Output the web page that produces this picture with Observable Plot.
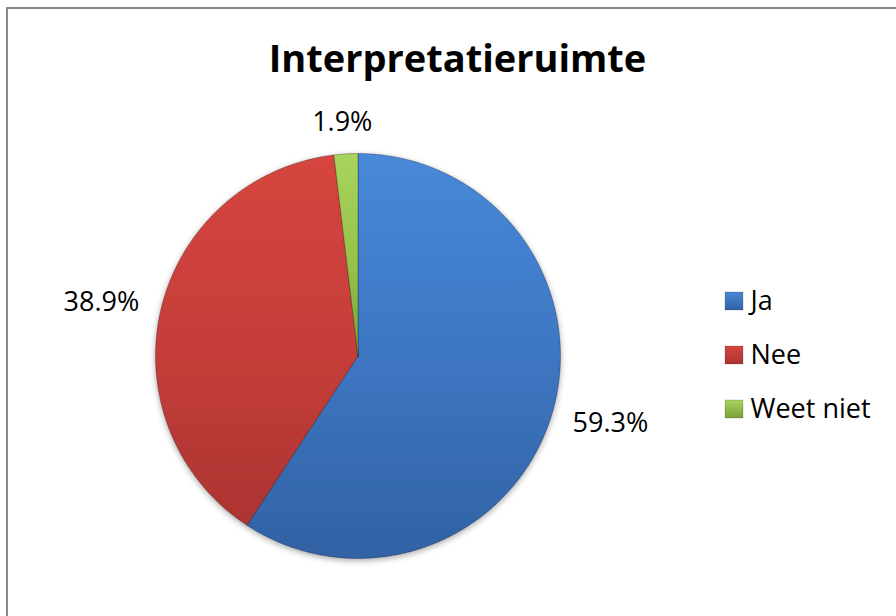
<!DOCTYPE html>
<html>
<head>
<meta charset="utf-8">
<script src="https://cdn.jsdelivr.net/npm/d3@7"></script>
<script src="https://cdn.jsdelivr.net/npm/@observablehq/plot@0.6"></script>
<style>
  html, body { margin: 0; padding: 0; background: #fff; }
  #wrap { position: relative; width: 896px; height: 616px; overflow: hidden; }
  #border { position: absolute; left: 6px; top: 7px; width: 900px; height: 620px;
            border-left: 2px solid #8a8a8a; border-top: 2px solid #8a8a8a; box-sizing: border-box; }
  #wrap svg { position: absolute; left: 0; top: 0; }
</style>
</head>
<body>
<div id="wrap"><div id="border"></div></div>
<script>
// ---- data ----
const title = "Interpretatieruimte";
const categories = ["Ja", "Nee", "Weet niet"];
const values = [59.3, 38.9, 1.9];
const labels = ["59.3%", "38.9%", "1.9%"];
const gradients = [
  ["#4789d8", "#3c74bf", "#3162a4"],
  ["#d6453f", "#c43d39", "#ab3431"],
  ["#a9d45c", "#96c24b", "#7c9f3b"]
];

// ---- layout ----
const W = 896, H = 616;
const cx = 357.5, cy = 355.5, R = 202.5;
const legendX = 734, legendY0 = 301, legendStep = 54, markerSize = 18;

const pie = d3.pie().sort(null).value(d => d.value).startAngle(0).endAngle(2 * Math.PI);
const data = categories.map((c, i) => ({cat: c, value: values[i], label: labels[i]}));
const arcs = pie(data);

const polyPts = [];
arcs.forEach(a => {
  polyPts.push({cat: a.data.cat, x: cx, y: cy});
  const n = Math.max(4, Math.ceil((a.endAngle - a.startAngle) / (Math.PI / 360)));
  for (let k = 0; k <= n; k++) {
    const t = a.startAngle + (a.endAngle - a.startAngle) * k / n;
    polyPts.push({cat: a.data.cat, x: cx + R * Math.sin(t), y: cy - R * Math.cos(t)});
  }
  polyPts.push({cat: a.data.cat, x: cx, y: cy});
});

const gap = 22, halfW = 39, halfH = 10;
const labelPts = arcs.map(a => {
  const m = (a.startAngle + a.endAngle) / 2;
  const s = Math.sin(m), c = -Math.cos(m);
  return {
    label: a.data.label,
    x: cx + (R + gap) * s + halfW * s,
    y: cy + (R + gap) * c + halfH * c
  };
});

const legend = categories.map((c, i) => ({
  cat: c,
  x: legendX,
  y: legendY0 + i * legendStep
}));

const fills = categories.map((c, i) => `url(#g${i})`);
const mfills = categories.map((c, i) => `url(#m${i})`);

const plot = Plot.plot({
  width: W, height: H,
  margin: 0,
  x: {domain: [0, W], range: [0, W], axis: null},
  y: {domain: [0, H], range: [0, H], axis: null},
  color: {domain: categories, range: fills},
  style: {fontFamily: "'Open Sans', sans-serif", background: "transparent"},
  marks: [
    Plot.line(polyPts, {x: "x", y: "y", z: "cat", fill: "cat", stroke: "#00000055", strokeWidth: 0.8, curve: "linear-closed", className: "slices"}),
    Plot.text([title], {x: () => 457, y: () => 59, text: d => d, fontSize: 38, fontWeight: "bold", fill: "#000", lineAnchor: "middle"}),
    Plot.text(labelPts, {x: "x", y: "y", text: "label", fontSize: 27, fill: "#000", lineAnchor: "middle"}),
    Plot.rect(legend, {
      x1: d => d.x - markerSize / 2, x2: d => d.x + markerSize / 2,
      y1: d => d.y - markerSize / 2, y2: d => d.y + markerSize / 2,
      fill: d => mfills[categories.indexOf(d.cat)],
      stroke: "#00000044", strokeWidth: 0.6
    }),
    Plot.text(legend, {x: d => d.x + 16, y: "y", text: "cat", fontSize: 27, textAnchor: "start", lineAnchor: "middle", fill: "#000"})
  ]
});

// gradients + soft shadow
const defs = `<defs>
<filter id="soft" x="-10%" y="-10%" width="120%" height="125%">
  <feGaussianBlur in="SourceAlpha" stdDeviation="3"/>
  <feOffset dx="0" dy="2" result="b"/>
  <feComponentTransfer><feFuncA type="linear" slope="0.35"/></feComponentTransfer>
  <feMerge><feMergeNode/><feMergeNode in="SourceGraphic"/></feMerge>
</filter>
${gradients.map((g, i) => `
<linearGradient id="g${i}" x1="0" y1="0" x2="0" y2="1">
  <stop offset="0" stop-color="${g[0]}"/>
  <stop offset="0.55" stop-color="${g[1]}"/>
  <stop offset="1" stop-color="${g[2]}"/>
</linearGradient>
<linearGradient id="m${i}" x1="0" y1="0" x2="0" y2="1">
  <stop offset="0" stop-color="${g[0]}"/>
  <stop offset="1" stop-color="${g[2]}"/>
</linearGradient>`).join("")}
</defs>`;
plot.insertAdjacentHTML("afterbegin", defs);
const sl = plot.querySelector("g.slices");
if (sl) sl.setAttribute("filter", "url(#soft)");
document.getElementById("wrap").appendChild(plot);
</script>
</body>
</html>
